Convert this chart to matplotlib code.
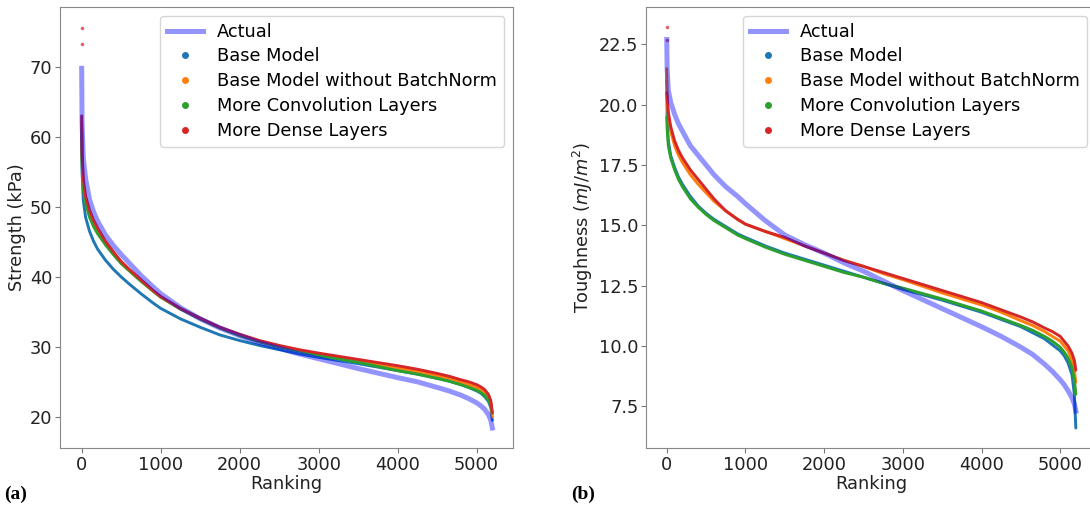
import matplotlib
matplotlib.use("Agg")
import matplotlib.pyplot as plt
from matplotlib.lines import Line2D

plt.rcParams['font.family'] = ['DejaVu Sans']

# ---------------- data ----------------
ranks = [0, 5, 20, 50, 100, 150, 200, 300, 400, 500, 600, 750, 900, 1000, 1250,
         1500, 1750, 2000, 2250, 2500, 2750, 3000, 3500, 4000, 4250, 4500, 4650,
         4800, 4900, 5000, 5050, 5100, 5150, 5180, 5199]

# (a) Strength (kPa)
strength_actual = [69.8, 62.0, 57.0, 54.0, 51.0, 49.3, 48.0, 46.0, 44.5, 43.2, 42.0, 40.2, 38.6, 37.6, 35.6,
                   34.0, 32.7, 31.6, 30.6, 29.8, 29.0, 28.3, 26.9, 25.6, 25.0, 24.2, 23.7,
                   23.1, 22.6, 22.0, 21.6, 21.1, 20.3, 19.5, 18.4]
strength_base = [60.0, 55.0, 51.0, 48.5, 46.5, 45.1, 44.0, 42.4, 41.1, 40.0, 39.0, 37.6, 36.3, 35.5, 34.0,
                 32.8, 31.7, 30.9, 30.2, 29.6, 29.0, 28.5, 27.6, 26.6, 26.1, 25.5, 25.1,
                 24.6, 24.2, 23.7, 23.4, 22.9, 22.2, 21.3, 19.5]
strength_nobn = [62.0, 57.0, 53.0, 51.0, 49.0, 47.6, 46.5, 44.8, 43.3, 42.0, 40.9, 39.4, 38.0, 37.1, 35.4,
                 34.0, 32.7, 31.7, 30.8, 30.1, 29.5, 28.9, 28.0, 27.0, 26.5, 25.9, 25.5,
                 25.0, 24.6, 24.2, 23.9, 23.5, 22.8, 22.0, 20.0]
strength_conv = [61.0, 56.0, 52.5, 50.5, 48.5, 47.2, 46.2, 44.6, 43.2, 41.9, 40.9, 39.4, 38.0, 37.1, 35.4,
                 34.0, 32.7, 31.6, 30.7, 30.0, 29.4, 28.8, 27.8, 26.6, 26.1, 25.5, 25.1,
                 24.6, 24.2, 23.8, 23.5, 23.1, 22.4, 21.6, 20.5]
strength_dense = [63.0, 58.0, 54.0, 51.5, 49.5, 48.1, 47.0, 45.1, 43.6, 42.2, 41.1, 39.6, 38.1, 37.2, 35.5,
                  34.1, 32.8, 31.8, 30.9, 30.2, 29.6, 29.1, 28.2, 27.3, 26.8, 26.2, 25.8,
                  25.3, 25.0, 24.6, 24.3, 23.9, 23.2, 22.3, 20.6]
strength_dense_outlier_rank = [0, 1]
strength_dense_outlier_vals = [75.6, 73.3]

# (b) Toughness (mJ/m^2)
tough_actual = [22.7, 21.5, 20.6, 20.1, 19.6, 19.2, 18.9, 18.3, 17.9, 17.5, 17.1, 16.6, 16.2, 15.9, 15.2,
                14.6, 14.2, 13.85, 13.45, 13.1, 12.7, 12.3, 11.55, 10.8, 10.4, 9.95, 9.65,
                9.25, 8.95, 8.6, 8.4, 8.15, 7.85, 7.6, 7.3]
tough_base = [21.0, 19.5, 18.5, 17.9, 17.4, 17.0, 16.7, 16.2, 15.8, 15.5, 15.25, 14.95, 14.65, 14.5, 14.15,
              13.85, 13.6, 13.35, 13.1, 12.85, 12.6, 12.35, 11.9, 11.4, 11.1, 10.8, 10.55,
              10.3, 10.05, 9.8, 9.6, 9.3, 8.8, 8.0, 6.6]
tough_nobn = [21.5, 20.2, 19.5, 18.9, 18.3, 17.9, 17.6, 17.1, 16.7, 16.35, 16.0, 15.6, 15.25, 15.05, 14.75,
              14.45, 14.15, 13.85, 13.55, 13.3, 13.0, 12.75, 12.2, 11.7, 11.4, 11.05, 10.85,
              10.6, 10.4, 10.2, 10.0, 9.8, 9.4, 9.0, 8.5]
tough_conv = [19.5, 19.0, 18.3, 17.8, 17.3, 16.9, 16.6, 16.1, 15.75, 15.45, 15.2, 14.9, 14.6, 14.45, 14.1,
              13.8, 13.55, 13.3, 13.05, 12.85, 12.6, 12.4, 11.95, 11.45, 11.15, 10.85, 10.65,
              10.4, 10.2, 9.95, 9.75, 9.5, 9.1, 8.6, 8.0]
tough_dense = [20.5, 20.3, 19.7, 19.1, 18.5, 18.1, 17.8, 17.3, 16.9, 16.5, 16.1, 15.6, 15.25, 15.05, 14.75,
               14.5, 14.15, 13.85, 13.55, 13.3, 13.05, 12.8, 12.3, 11.8, 11.5, 11.2, 11.0,
               10.75, 10.6, 10.4, 10.2, 10.0, 9.7, 9.4, 9.0]
tough_dense_outlier_rank = [0, 1]
tough_dense_outlier_vals = [23.2, 22.7]

labels = ['Actual', 'Base Model', 'Base Model without BatchNorm',
          'More Convolution Layers', 'More Dense Layers']
colors = ['#1f77b4', '#ff7f0e', '#2ca02c', '#d62728']

FS = 12.8

fig = plt.figure(figsize=(10.9, 5.14), dpi=100)
axL = fig.add_axes([0.0550, 0.1278, 0.4156, 0.8591])
axR = fig.add_axes([0.5927, 0.1278, 0.4128, 0.8591])


def draw(ax, actual, models, out_r, out_v, ylabel, ylim, xlim):
    for vals, c in zip(models, colors):
        ax.plot(ranks, vals, color=c, lw=2.1, solid_capstyle='round', zorder=2)
    ax.plot(out_r, out_v, ls='', marker='o', ms=1.6, color=colors[3], alpha=0.6, zorder=2)
    ax.plot(ranks, actual, color='blue', alpha=0.42, lw=3.6, zorder=3)
    ax.set_xlim(*xlim)
    ax.set_ylim(*ylim)
    ax.set_xticks([0, 1000, 2000, 3000, 4000, 5000])
    ax.set_xlabel('Ranking', fontsize=FS, color='#222222', labelpad=1)
    ax.set_ylabel(ylabel, fontsize=FS, color='#222222', labelpad=3)
    ax.tick_params(labelsize=FS, colors='#222222', length=3.5, pad=2, color='#777777')
    for s in ax.spines.values():
        s.set_color('#888888')
    handles = [Line2D([], [], color='blue', alpha=0.42, lw=3.6)]
    for c in colors:
        handles.append(Line2D([], [], ls='', marker='o', ms=4, color=c))
    ax.legend(handles, labels, loc='upper right', fontsize=FS, labelspacing=0.38)


draw(axL, strength_actual,
     [strength_base, strength_nobn, strength_conv, strength_dense],
     strength_dense_outlier_rank, strength_dense_outlier_vals,
     'Strength (kPa)', (15.5, 78.6), (-275, 5460))
axL.set_yticks([20, 30, 40, 50, 60, 70])

draw(axR, tough_actual,
     [tough_base, tough_nobn, tough_conv, tough_dense],
     tough_dense_outlier_rank, tough_dense_outlier_vals,
     r'Toughness ($mJ/m^2$)', (5.76, 24.06), (-263, 5455))
axR.set_yticks([7.5, 10.0, 12.5, 15.0, 17.5, 20.0, 22.5])

fig.text(0.004, 0.039, '(a)', fontsize=14, fontweight='bold',
         family='Liberation Serif', va='center', ha='left')
fig.text(0.524, 0.039, '(b)', fontsize=14, fontweight='bold',
         family='Liberation Serif', va='center', ha='left')

fig.savefig('out.png', dpi=100)
